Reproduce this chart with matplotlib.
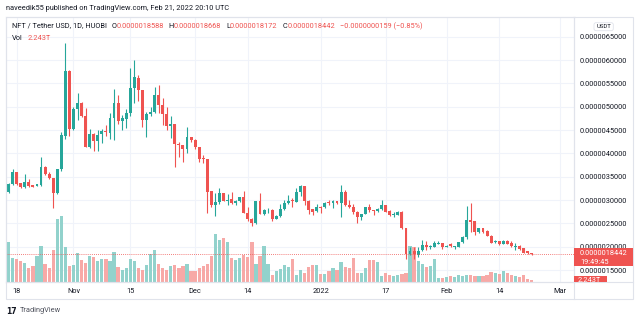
import numpy as np
import pandas as pd
import matplotlib
matplotlib.use('Agg')
import matplotlib.pyplot as plt
import matplotlib.dates as mdates
from matplotlib.patches import Rectangle, FancyBboxPatch
from matplotlib.ticker import FuncFormatter

plt.rcParams['font.family'] = ['Roboto', 'DejaVu Sans']

# NFT / USDT daily candles on Huobi, prices in millionths of a USDT
dates = pd.date_range('2021-10-15', '2022-02-22', freq='D')
opens = [3.343, 3.179, 3.343, 3.593, 3.357, 3.271, 3.393, 3.314, 3.30, 3.32, 3.70,
         3.557, 3.464, 3.143, 3.664, 4.37, 5.771, 4.514, 4.943, 5.086, 4.80, 4.143,
         4.414, 4.264, 4.407, 4.478, 4.443, 4.757, 5.079, 4.70, 4.743, 4.857, 5.393,
         5.614, 5.35, 4.707, 4.836, 4.886, 5.25, 5.036, 4.836, 4.593, 4.62, 4.207,
         4.171, 4.10, 4.343, 4.286, 4.129, 3.90, 3.871, 3.186, 2.90, 2.957, 3.143,
         2.986, 3.014, 2.93, 2.986, 3.057, 2.729, 2.60, 2.50, 2.971, 2.70, 2.779,
         2.79, 2.60, 2.657, 2.80, 2.929, 3.00, 2.964, 3.164, 3.293, 2.986, 2.80,
         2.764, 2.857, 2.843, 2.95, 2.93, 2.971, 2.93, 3.171, 2.893, 2.843, 2.75,
         2.629, 2.70, 2.843, 2.786, 2.764, 2.80, 2.893, 2.764, 2.671, 2.679, 2.75,
         2.40, 1.843, 1.914, 1.83, 1.93, 2.036, 1.986, 2.00, 2.06, 2.07, 2.00, 2.057,
         2.00, 2.00, 2.093, 2.214, 2.571, 2.55, 2.321, 2.393, 2.343, 2.236, 2.10,
         2.129, 2.057, 2.129, 2.086, 1.986, 2.014, 1.964, 1.90, 1.8588]
highs = [3.36, 3.37, 3.657, 3.61, 3.37, 3.557, 3.46, 3.33, 3.35, 3.93, 3.72,
         3.60, 3.47, 3.67, 4.464, 6.357, 5.78, 5.00, 5.286, 5.10, 4.964, 4.53,
         4.43, 4.50, 4.514, 4.607, 4.857, 5.371, 5.25, 4.82, 4.96, 5.836, 6.00,
         5.68, 5.36, 4.89, 5.00, 5.43, 5.46, 5.18, 4.99, 4.80, 4.63, 4.25,
         4.18, 4.557, 4.36, 4.30, 4.13, 3.96, 3.88, 3.19, 3.143, 3.25, 3.15,
         3.13, 3.18, 3.00, 3.07, 3.20, 2.86, 2.62, 2.98, 3.16, 2.80, 2.83,
         2.80, 2.67, 2.91, 2.99, 3.11, 3.04, 3.25, 3.32, 3.30, 2.99, 2.81,
         2.91, 2.87, 2.95, 2.99, 2.99, 2.98, 3.329, 3.21, 2.99, 2.91, 2.76,
         2.71, 2.86, 2.91, 2.79, 2.82, 2.99, 2.90, 2.78, 2.74, 2.76, 2.76,
         2.41, 2.00, 2.00, 2.00, 2.14, 2.13, 2.03, 2.13, 2.13, 2.08, 2.03, 2.09,
         2.02, 2.10, 2.23, 2.871, 2.929, 2.56, 2.40, 2.40, 2.35, 2.24, 2.14,
         2.13, 2.14, 2.14, 2.13, 2.07, 2.04, 1.97, 1.91, 1.8668]
lows = [3.15, 3.16, 3.33, 3.33, 3.26, 3.26, 3.28, 3.27, 3.29, 3.31, 3.54,
        3.44, 2.821, 3.12, 3.62, 4.31, 4.37, 4.49, 4.714, 4.78, 4.13, 4.12,
        4.057, 4.057, 4.214, 4.37, 4.30, 4.286, 4.63, 4.50, 4.55, 4.80, 5.086,
        5.12, 4.564, 4.357, 4.80, 4.86, 4.87, 4.607, 4.50, 4.32, 3.714, 3.93,
        3.82, 4.00, 4.25, 4.09, 3.82, 3.80, 2.729, 2.85, 2.657, 2.91, 2.97,
        2.89, 2.91, 2.90, 2.96, 2.72, 2.557, 2.45, 2.49, 2.69, 2.68, 2.73,
        2.56, 2.59, 2.64, 2.79, 2.92, 2.86, 2.95, 3.09, 2.90, 2.70, 2.68,
        2.75, 2.73, 2.83, 2.90, 2.82, 2.92, 2.629, 2.87, 2.83, 2.71, 2.514,
        2.57, 2.69, 2.75, 2.68, 2.75, 2.79, 2.74, 2.66, 2.63, 2.67, 2.38,
        1.729, 1.83, 1.74, 1.79, 1.91, 1.93, 1.96, 1.99, 2.05, 1.96, 1.99, 2.00,
        1.96, 1.99, 2.08, 2.16, 2.32, 2.25, 2.30, 2.30, 2.22, 2.07, 2.09,
        2.04, 2.05, 2.05, 2.00, 1.93, 1.93, 1.86, 1.84, 1.8172]
closes = [3.179, 3.343, 3.593, 3.343, 3.271, 3.393, 3.30, 3.286, 3.336, 3.70, 3.557,
          3.464, 3.143, 3.664, 4.386, 5.771, 4.514, 4.943, 5.086, 4.80, 4.143, 4.414,
          4.264, 4.386, 4.471, 4.45, 4.757, 5.079, 4.70, 4.757, 4.864, 5.40, 5.636,
          5.35, 4.707, 4.836, 4.886, 5.25, 5.036, 4.836, 4.593, 4.62, 4.207, 4.171,
          4.093, 4.343, 4.286, 4.129, 3.879, 3.871, 3.179, 2.90, 2.957, 3.143, 2.986,
          3.01, 2.943, 2.986, 3.057, 2.729, 2.60, 2.50, 2.971, 2.70, 2.779, 2.79,
          2.60, 2.657, 2.80, 2.929, 2.986, 2.97, 3.164, 3.293, 2.986, 2.786, 2.75,
          2.843, 2.83, 2.943, 2.93, 2.971, 2.93, 3.171, 2.893, 2.843, 2.75, 2.629,
          2.70, 2.843, 2.786, 2.764, 2.807, 2.893, 2.75, 2.679, 2.70, 2.75, 2.393,
          1.843, 1.914, 1.843, 1.914, 2.036, 2.00, 2.014, 2.07, 2.086, 2.00, 2.014,
          2.014, 2.014, 2.093, 2.214, 2.571, 2.536, 2.321, 2.393, 2.321, 2.236, 2.086,
          2.129, 2.057, 2.129, 2.057, 2.014, 2.014, 1.943, 1.871, 1.8601, 1.8442]
# volume, trillions of NFT
volumes = [22.5, 54, 32.9, 31, 28.4, 25.2, 18.5, 21.6, 34.7, 48.2, 24.8,
           18.5, 43.7, 85.5, 89.1, 47.3, 21.6, 22.5, 39.2, 30.2, 25.2, 34.7,
           33.3, 27.9, 31, 31, 28.4, 40, 20.7, 16.7, 19.4, 31, 28.4,
           18.5, 16.7, 22.5, 37.4, 42.8, 24.8, 18.5, 16.7, 21.6, 22.5, 19.4,
           21.6, 24.8, 14.9, 14.9, 19.4, 21.6, 24.8, 34.7, 64.4, 56.3, 59,
           53.6, 32.4, 29.3, 32.4, 36, 33.3, 54.5, 24.8, 34.7, 49, 24.8,
           9.5, 14.9, 17.6, 23.4, 20.7, 30.6, 9, 15.8, 12.6, 20.3, 23.4,
           23.4, 11.3, 11.3, 14.9, 19.4, 16.7, 26.6, 20.7, 18.5, 32.9, 11.7,
           12.6, 19.4, 29.3, 30.2, 26.6, 7.7, 12.6, 9.9, 7.7, 9, 10.4,
           11.7, 48.2, 47.3, 27.9, 24.8, 19.8, 21.6, 31.5, 5.4, 5.4, 6.8, 8.1,
           6.8, 9, 8.1, 9, 9, 7.7, 7.7, 7.7, 9.9, 14, 12.6,
           10.4, 14.4, 12.2, 9, 8.1, 6.8, 9.9, 4.5, 2.243]

price_ticks = [1.5, 2.0, 2.5, 3.0, 3.5, 4.0, 4.5, 5.0, 5.5, 6.0, 6.5]
tick_dates = ['2021-10-18', '2021-11-01', '2021-11-15', '2021-12-01', '2021-12-14',
              '2022-01-01', '2022-01-17', '2022-02-01', '2022-02-14', '2022-03-01']
tick_labels = ['18', 'Nov', '15', 'Dec', '14', '2022', '17', 'Feb', '14', 'Mar']

UP, DOWN = '#26a69a', '#ef5350'
UP_VOL, DOWN_VOL = '#92d2cc', '#f7a9a7'
TXT = '#131722'
BORDER = '#e0e3eb'
GRID = '#f0f3fa'
FS = 5.3

df = pd.DataFrame({'open': opens, 'high': highs, 'low': lows, 'close': closes},
                  index=dates) * 1e-6
df['volume'] = volumes
x = mdates.date2num(df.index)
up = (df['close'] >= df['open']).values

W, H = 640, 322
fig = plt.figure(figsize=(W / 100, H / 100), dpi=100)
rect = [6 / W, 1 - 282 / H, 568 / W, 265 / H]
ax_bg = fig.add_axes(rect, zorder=0)
ax_v = fig.add_axes(rect, zorder=1, sharex=ax_bg)
ax = fig.add_axes(rect, zorder=2, sharex=ax_bg, sharey=ax_bg)
for a in (ax_v, ax):
    a.patch.set_visible(False)

# first full candle (Oct 16) sits 2.6 px from the left edge, 4.055 px per day
x0 = mdates.date2num(pd.Timestamp('2021-10-16'))
ax_bg.set_xlim(x0 - 0.64, x0 + 139.44)
ax_bg.set_ylim(1.2436e-6, 6.922e-6)
ax_v.set_ylim(0, 357.75)

# grid
ax.set_yticks(np.array(price_ticks) * 1e-6)
ax.set_xticks(mdates.date2num(pd.to_datetime(tick_dates)))
ax.set_xticklabels(tick_labels)
ax_bg.grid(True, color=GRID, lw=0.8)
ax_bg.tick_params(length=0, labelleft=False, labelbottom=False)
for s in ax_bg.spines.values():
    s.set_visible(False)

# volume
ax_v.bar(x, df['volume'], width=0.8, color=np.where(up, UP_VOL, DOWN_VOL), lw=0)
ax_v.axis('off')

# candles
cols = np.where(up, UP, DOWN)
ax.vlines(x, df['low'], df['high'], colors=cols, lw=0.8)
body = np.maximum((df['close'] - df['open']).abs(), 0.012e-6)
ax.bar(x, body, bottom=df[['open', 'close']].min(axis=1), width=0.72, color=cols, lw=0)
last = df['close'].iloc[-1]
ax.axhline(last, color=DOWN, lw=0.6, ls=(0, (1, 1.5)))

ax.yaxis.tick_right()
ax.yaxis.set_major_formatter(FuncFormatter(lambda v, p: f'{v:.10f}'))
ax.tick_params(axis='y', length=0, pad=4.3, labelsize=FS, colors=TXT)
ax.tick_params(axis='x', length=0, pad=4.2, labelsize=FS, colors=TXT)
for s in ax.spines.values():
    s.set_color(BORDER)
    s.set_linewidth(0.8)

# outer frame of the widget
fig.add_artist(Rectangle((6 / W, 1 - 299 / H), 627 / W, 282 / H, transform=fig.transFigure,
                         fill=False, ec=BORDER, lw=0.8))
fig.add_artist(plt.Line2D([574 / W, 574 / W], [1 - 299 / H, 1 - 17 / H], color=BORDER, lw=0.8))
fig.add_artist(plt.Line2D([6 / W, 633 / W], [1 - 282 / H, 1 - 282 / H], color=BORDER, lw=0.8))

# price scale panel, in image pixel units
ax_s = fig.add_axes([574 / W, 1 - 282 / H, 59 / W, 265 / H], zorder=3)
ax_s.set_xlim(574, 633)
ax_s.set_ylim(282, 17)
ax_s.axis('off')
ax_s.add_patch(FancyBboxPatch((594, 22.7), 19.3, 8, boxstyle='round,pad=0,rounding_size=2',
                              fc='white', ec=BORDER, lw=0.6))
ax_s.text(603.7, 26.9, 'USDT', fontsize=4.3, color=TXT, ha='center', va='center')

y_last = H - ax.transData.transform((x[-1], last))[1]
ax_s.add_patch(Rectangle((574, y_last - 6), 59, 18, color=DOWN, lw=0))
ax_s.text(580, y_last, f'{last:.10f}', fontsize=FS, color='white', va='center')
ax_s.text(580, y_last + 8.5, '19:49:45', fontsize=FS, color='white', va='center')

y_vol = H - ax_v.transData.transform((x[-1], volumes[-1]))[1]
ax_s.add_patch(Rectangle((574, y_vol - 4.5), 33, 9, color=DOWN, lw=0))
ax_s.text(578, y_vol, f'{volumes[-1]}T', fontsize=FS, color='white', va='center')

# legend line at the top of the chart
prev = df['close'].iloc[-2]
chg = last - prev
pieces = [('NFT / Tether USD, 1D, HUOBI', TXT, 0),
          ('O', TXT, 3.5), (f"{df['open'].iloc[-1]:.10f}", DOWN, 0),
          ('H', TXT, 3.5), (f"{df['high'].iloc[-1]:.10f}", DOWN, 0),
          ('L', TXT, 3.5), (f"{df['low'].iloc[-1]:.10f}", DOWN, 0),
          ('C', TXT, 3.5), (f'{last:.10f}', DOWN, 0),
          (f'\u2212{abs(chg):.10f} (\u2212{abs(chg) / prev * 100:.2f}%)', DOWN, 3.5)]
t = ax.annotate(pieces[0][0], xy=(11.5, H - 26), xycoords='figure pixels',
                fontsize=FS, color=pieces[0][1], va='center')
for txt, c, gap in pieces[1:]:
    t = ax.annotate(txt, xy=(1, 0.5), xycoords=t, xytext=(gap, 0),
                    textcoords='offset points', fontsize=FS, color=c, va='center')
t = ax.annotate('Vol', xy=(11.5, H - 38), xycoords='figure pixels',
                fontsize=FS, color=TXT, va='center')
ax.annotate(f'{volumes[-1]}T', xy=(1, 0.5), xycoords=t, xytext=(3.5, 0),
            textcoords='offset points', fontsize=FS, color=DOWN, va='center')

fig.text(6 / W, 1 - 9 / H, 'naveedik55 published on TradingView.com, Feb 21, 2022 20:10 UTC',
         fontsize=FS, color=TXT, va='center')
fig.text(6 / W, 1 - 311 / H, '17', fontsize=5.5, weight='bold', color=TXT, va='center',
         family='DejaVu Sans')
fig.text(20 / W, 1 - 311 / H, 'TradingView', fontsize=FS, color='#50535e', va='center')

fig.savefig('out.png', dpi=100, facecolor='white')
